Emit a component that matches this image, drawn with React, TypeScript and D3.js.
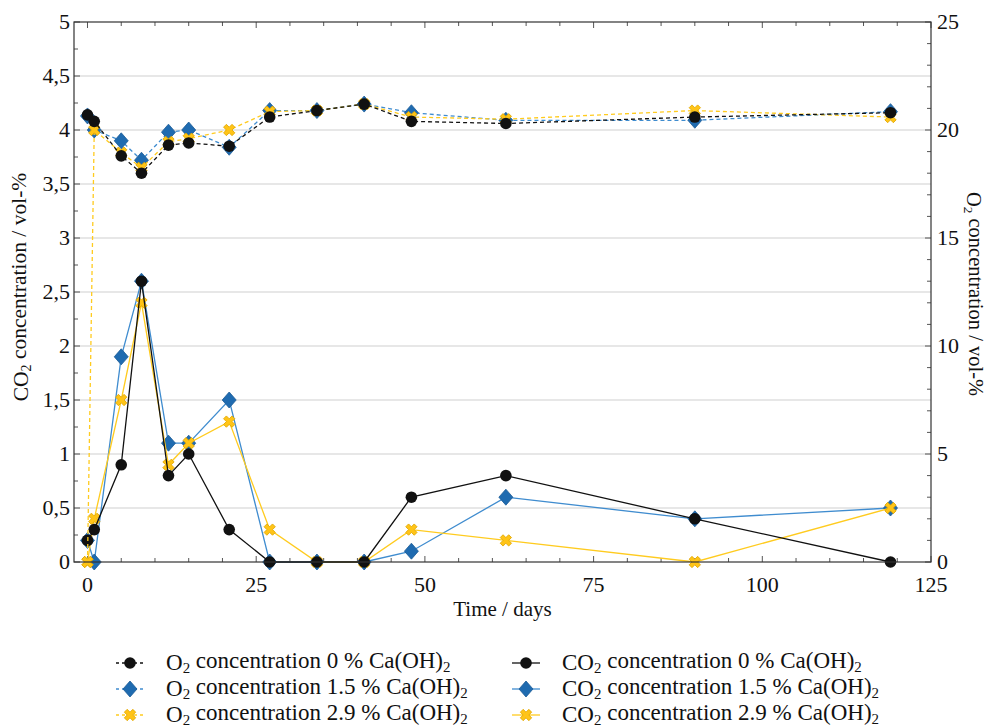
import React from "react";
import * as d3 from "d3";

// Sampling days
const days = [0, 1, 5, 8, 12, 15, 21, 27, 34, 41, 48, 62, 90, 119];

// CO2 concentration / vol-% (left axis)
const co2_0 = [0.2, 0.3, 0.9, 2.6, 0.8, 1.0, 0.3, 0, 0, 0, 0.6, 0.8, 0.4, 0];
const co2_15 = [0.2, 0, 1.9, 2.6, 1.1, 1.1, 1.5, 0, 0, 0, 0.1, 0.6, 0.4, 0.5];
const co2_29 = [0, 0.4, 1.5, 2.4, 0.9, 1.1, 1.3, 0.3, 0, 0, 0.3, 0.2, 0, 0.5];

// O2 concentration / vol-% (right axis)
const o2_0 = [20.7, 20.4, 18.8, 18.0, 19.3, 19.4, 19.25, 20.6, 20.9, 21.2, 20.4, 20.3, 20.6, 20.8];
const o2_15 = [20.65, 20.0, 19.5, 18.6, 19.9, 20.0, 19.2, 20.9, 20.9, 21.2, 20.8, 20.45, 20.45, 20.85];
const o2_29 = [0, 20.0, 18.95, 18.25, 19.45, 19.6, 20.0, 20.85, 20.9, 21.2, 20.6, 20.5, 20.9, 20.6];

const xTicks = [0, 25, 50, 75, 100, 125];
const leftTicks = [0, 0.5, 1, 1.5, 2, 2.5, 3, 3.5, 4, 4.5, 5];
const rightTicks = [0, 5, 10, 15, 20, 25];

const W = 987;
const H = 727;
const M = { left: 74, right: 931, top: 22, bottom: 562 };
const FONT = "Liberation Serif, Times New Roman, DejaVu Serif, serif";

const x = d3.scaleLinear().domain([-2, 125]).range([M.left, M.right]);
const yL = d3.scaleLinear().domain([0, 5]).range([M.bottom, M.top]);
const yR = d3.scaleLinear().domain([0, 25]).range([M.bottom, M.top]);

const BLACK = "#111111";
const BLUE_FILL = "#1f6bb0";
const BLUE_LINE = "#3f8ccf";
const YEL_FILL = "#ffc417";
const YEL_LINE = "#ffcb1f";

type Kind = "circle" | "diamond" | "cross";

const diamondPath = "M0,-8L7,0L0,8L-7,0Z";
const crossPath = d3.symbol(d3.symbolCross, 80)() as string;

function Marker({ kind, cx, cy }: { kind: Kind; cx: number; cy: number }) {
  if (kind === "circle") return <circle cx={cx} cy={cy} r={5.8} fill={BLACK} />;
  if (kind === "diamond")
    return <path d={diamondPath} transform={`translate(${cx},${cy})`} fill={BLUE_FILL} stroke="#1a5a96" strokeWidth={0.8} />;
  return (
    <path d={crossPath} transform={`translate(${cx},${cy}) rotate(45)`} fill={YEL_FILL} stroke="#e0a600" strokeWidth={0.8} />
  );
}

function Series({ vals, y, kind, color, dashed }: { vals: number[]; y: d3.ScaleLinear<number, number>; kind: Kind; color: string; dashed: boolean }) {
  const line = d3
    .line<number>()
    .x((_, i) => x(days[i]))
    .y((v) => y(v));
  return (
    <g>
      <path d={line(vals) as string} fill="none" stroke={color} strokeWidth={1.3} strokeDasharray={dashed ? "4,3" : undefined} />
      {vals.map((v, i) => (
        <Marker key={i} kind={kind} cx={x(days[i])} cy={y(v)} />
      ))}
    </g>
  );
}

function Sub({ children }: { children: string }) {
  return (
    <tspan fontSize="0.65em" dy="0.22em">
      {children}
    </tspan>
  );
}

const legendItems = [
  { pre: "O", post: " concentration 0 % Ca(OH)", kind: "circle" as Kind, color: BLACK, dashed: true },
  { pre: "O", post: " concentration 1.5 % Ca(OH)", kind: "diamond" as Kind, color: BLUE_LINE, dashed: true },
  { pre: "O", post: " concentration 2.9 % Ca(OH)", kind: "cross" as Kind, color: YEL_LINE, dashed: true },
  { pre: "CO", post: " concentration 0 % Ca(OH)", kind: "circle" as Kind, color: BLACK, dashed: false },
  { pre: "CO", post: " concentration 1.5 % Ca(OH)", kind: "diamond" as Kind, color: BLUE_LINE, dashed: false },
  { pre: "CO", post: " concentration 2.9 % Ca(OH)", kind: "cross" as Kind, color: YEL_LINE, dashed: false },
];

const textStyle = { fontFamily: FONT };

export default function App() {
  const xMinor = d3.range(0, 126, 5);
  const lMinor = d3.range(0, 5.01, 0.25);
  const rMinor = d3.range(0, 25.01, 1);
  return (
    <svg width={W} height={H} style={{ position: "absolute", left: 0, top: 0, background: "#fff", fontFamily: FONT }}>
      {/* horizontal grid */}
      {leftTicks.slice(1, -1).map((t) => (
        <line key={t} x1={M.left} x2={M.right} y1={yL(t)} y2={yL(t)} stroke="#cfcfcf" strokeWidth={1.2} />
      ))}

      {/* tick marks on all four sides, pointing inward */}
      {xMinor.map((t) => {
        const len = t % 25 === 0 ? 6 : 4;
        return (
          <g key={t} stroke="#555" strokeWidth={1}>
            <line x1={x(t)} x2={x(t)} y1={M.bottom} y2={M.bottom - len} />
            <line x1={x(t)} x2={x(t)} y1={M.top} y2={M.top + len} />
          </g>
        );
      })}
      {lMinor.map((t) => {
        const len = Math.abs(t * 2 - Math.round(t * 2)) < 1e-6 ? 6 : 4;
        return <line key={t} x1={M.left} x2={M.left + len} y1={yL(t)} y2={yL(t)} stroke="#555" />;
      })}
      {rMinor.map((t) => {
        const len = t % 5 === 0 ? 6 : 4;
        return <line key={t} x1={M.right} x2={M.right - len} y1={yR(t)} y2={yR(t)} stroke="#555" />;
      })}

      {/* series */}
      <Series vals={co2_15} y={yL} kind="diamond" color={BLUE_LINE} dashed={false} />
      <Series vals={co2_29} y={yL} kind="cross" color={YEL_LINE} dashed={false} />
      <Series vals={co2_0} y={yL} kind="circle" color={BLACK} dashed={false} />
      <Series vals={o2_15} y={yR} kind="diamond" color={BLUE_LINE} dashed={true} />
      <Series vals={o2_29} y={yR} kind="cross" color={YEL_LINE} dashed={true} />
      <Series vals={o2_0} y={yR} kind="circle" color={BLACK} dashed={true} />

      {/* frame */}
      <rect x={M.left} y={M.top} width={M.right - M.left} height={M.bottom - M.top} fill="none" stroke="#333" strokeWidth={1.2} />

      {/* tick labels */}
      {xTicks.map((t) => (
        <text key={t} x={x(t)} y={M.bottom + 30} textAnchor="middle" fontSize={22} fill="#111" style={textStyle}>
          {t}
        </text>
      ))}
      {leftTicks.map((t) => (
        <text key={t} x={M.left - 4} y={yL(t) + 7} textAnchor="end" fontSize={22} fill="#111" style={textStyle}>
          {String(t).replace(".", ",")}
        </text>
      ))}
      {rightTicks.map((t) => (
        <text key={t} x={M.right + 6} y={yR(t) + 6.5} textAnchor="start" fontSize={22} fill="#111" style={textStyle}>
          {t}
        </text>
      ))}

      {/* axis titles */}
      <text x={(M.left + M.right) / 2} y={616} textAnchor="middle" fontSize={21} fill="#111" style={textStyle}>
        Time / days
      </text>
      <text transform="translate(28,287) rotate(-90)" textAnchor="middle" fontSize={21.5} fill="#111" style={textStyle}>
        CO<Sub>2</Sub>
        <tspan dy="-0.22em"> concentration / vol-%</tspan>
      </text>
      <text transform="translate(967,294) rotate(90)" textAnchor="middle" fontSize={20.5} fill="#111" style={textStyle}>
        O<Sub>2</Sub>
        <tspan dy="-0.22em"> concentration / vol-%</tspan>
      </text>

      {/* legend */}
      {legendItems.map((it, i) => {
        const col = Math.floor(i / 3);
        const row = i % 3;
        const sx = col === 0 ? 116 : 512;
        const tx = col === 0 ? 166 : 562;
        const cy = 663 + row * 26;
        return (
          <g key={i}>
            <line x1={sx} x2={sx + 28} y1={cy} y2={cy} stroke={it.color} strokeWidth={1.3} strokeDasharray={it.dashed ? "3,3" : undefined} />
            <Marker kind={it.kind} cx={sx + 14} cy={cy} />
            <text x={tx} y={cy + 7} fontSize={23} fill="#111" style={textStyle}>
              {it.pre}
              <Sub>2</Sub>
              <tspan dy="-0.22em">{it.post}</tspan>
              <Sub>2</Sub>
            </text>
          </g>
        );
      })}
    </svg>
  );
}
